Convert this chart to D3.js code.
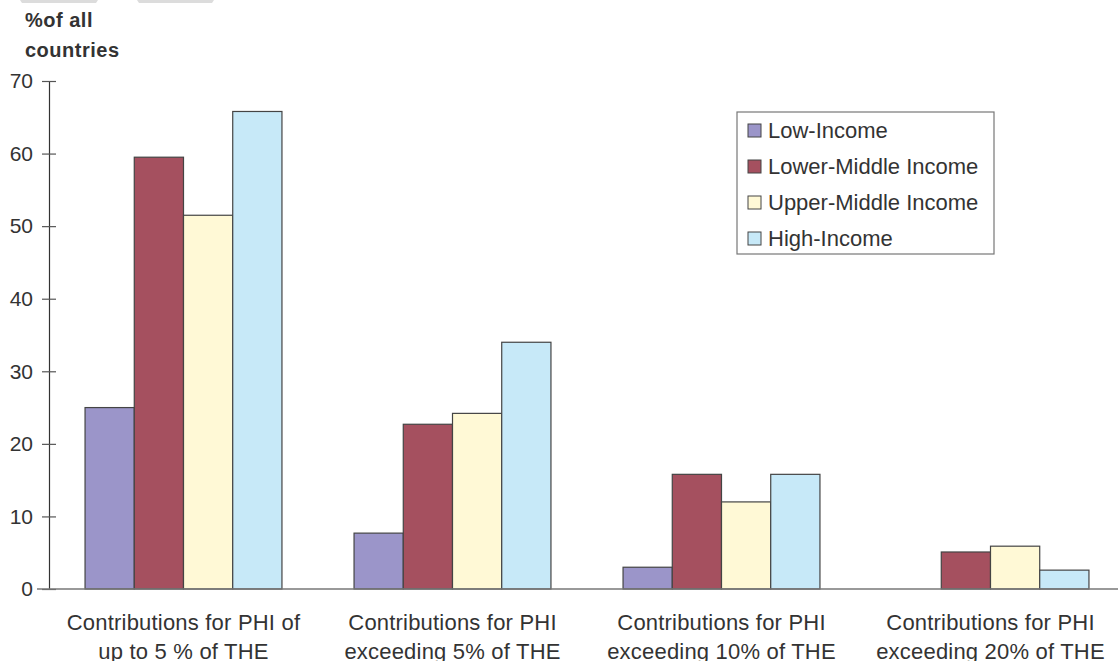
<!DOCTYPE html>
<html><head><meta charset="utf-8">
<script src="https://cdn.jsdelivr.net/npm/d3@7"></script>
<style>
html,body{margin:0;padding:0;background:#fff;}
svg{display:block;font-family:"Liberation Sans",Arial,sans-serif;}
</style></head>
<body>
<svg id="chart" width="1118" height="661"></svg>
<script>
const categories = [
  ["Contributions for PHI of", "up to 5 % of THE"],
  ["Contributions for PHI", "exceeding 5% of THE"],
  ["Contributions for PHI", "exceeding 10% of THE"],
  ["Contributions for PHI", "exceeding 20% of THE"]
];
const seriesNames = ["Low-Income", "Lower-Middle Income", "Upper-Middle Income", "High-Income"];
const lowIncome = [25.0, 7.7, 3.0, 0];
const lowerMiddle = [59.5, 22.7, 15.8, 5.1];
const upperMiddle = [51.5, 24.2, 12.0, 5.9];
const highIncome = [65.8, 34.0, 15.8, 2.6];
const yTicks = [0, 10, 20, 30, 40, 50, 60, 70];
const colors = ["#9b95c9", "#a5505f", "#fff9d6", "#c7e9f8"];

const series = [lowIncome, lowerMiddle, upperMiddle, highIncome];
const svg = d3.select("#chart");
const textColor = "#333";

// faint decoration at top
svg.append("path").attr("d", "M20,0 L98,0 L96,3 L22,3 Z").attr("fill", "#dcdcdc");
svg.append("path").attr("d", "M137,0 L214,0 L212,3 L139,3 Z").attr("fill", "#dcdcdc");

const x0 = d3.scaleBand().domain(d3.range(categories.length)).range([49, 1125]).paddingInner(0.268).paddingOuter(0.134);
const x1 = d3.scaleBand().domain(d3.range(seriesNames.length)).range([0, x0.bandwidth()]);
const y = d3.scaleLinear().domain([0, 70]).range([589, 81]);

// y axis
const yAxis = d3.axisLeft(y).tickValues(yTicks).tickSize(0).tickPadding(16);
const gy = svg.append("g").attr("transform", "translate(49,0)").call(yAxis);
gy.select(".domain").attr("stroke", "#333").attr("stroke-width", 1.2);
gy.selectAll(".tick text").attr("fill", textColor).attr("font-size", 21).attr("font-family", "Liberation Sans, Arial, sans-serif");
gy.selectAll(".tick").append("line").attr("x1", -7).attr("x2", 7).attr("stroke", "#555").attr("stroke-width", 1.2);

// bars
const groups = svg.append("g").selectAll("g").data(categories).join("g")
  .attr("transform", (d, i) => `translate(${x0(i)},0)`);
groups.selectAll("rect").data((d, i) => series.map((s, k) => ({k, v: s[i]})).filter(e => e.v > 0)).join("rect")
  .attr("x", e => x1(e.k))
  .attr("y", e => y(e.v))
  .attr("width", x1.bandwidth())
  .attr("height", e => y(0) - y(e.v))
  .attr("fill", e => colors[e.k])
  .attr("stroke", "#444")
  .attr("stroke-width", 1.2);

// x axis baseline
svg.append("line").attr("x1", 37).attr("x2", 1118).attr("y1", y(0)).attr("y2", y(0)).attr("stroke", "#777").attr("stroke-width", 1.5);

// category labels
const labels = svg.append("g").selectAll("text").data(categories).join("text")
  .attr("x", (d, i) => x0(i) + x0.bandwidth() / 2)
  .attr("y", 630)
  .attr("text-anchor", "middle")
  .attr("fill", textColor)
  .attr("font-size", 22)
  .attr("letter-spacing", 0.2);
labels.selectAll("tspan").data(d => d).join("tspan")
  .attr("x", function() { return this.parentNode.getAttribute("x"); })
  .attr("dy", (d, j) => j === 0 ? 0 : 29)
  .text(d => d);

// y title
const title = svg.append("text").attr("x", 25).attr("fill", textColor).attr("font-weight", "bold").attr("font-size", 20).attr("letter-spacing", 0.5);
title.append("tspan").attr("x", 25).attr("y", 27).text("%of all");
title.append("tspan").attr("x", 25).attr("y", 57).text("countries");

// legend
const legend = svg.append("g").attr("transform", "translate(737,112)");
legend.append("rect").attr("width", 257).attr("height", 142).attr("fill", "#fff").attr("stroke", "#777").attr("stroke-width", 1.2);
const li = legend.selectAll("g").data(seriesNames).join("g")
  .attr("transform", (d, i) => `translate(11,${18 + i * 36})`);
li.append("rect").attr("x", 0).attr("y", -6).attr("width", 13).attr("height", 13)
  .attr("fill", (d, i) => colors[i]).attr("stroke", "#444").attr("stroke-width", 1);
li.append("text").attr("x", 20).attr("y", 8).attr("fill", textColor).attr("font-size", 22).text(d => d);
</script>
</body></html>
